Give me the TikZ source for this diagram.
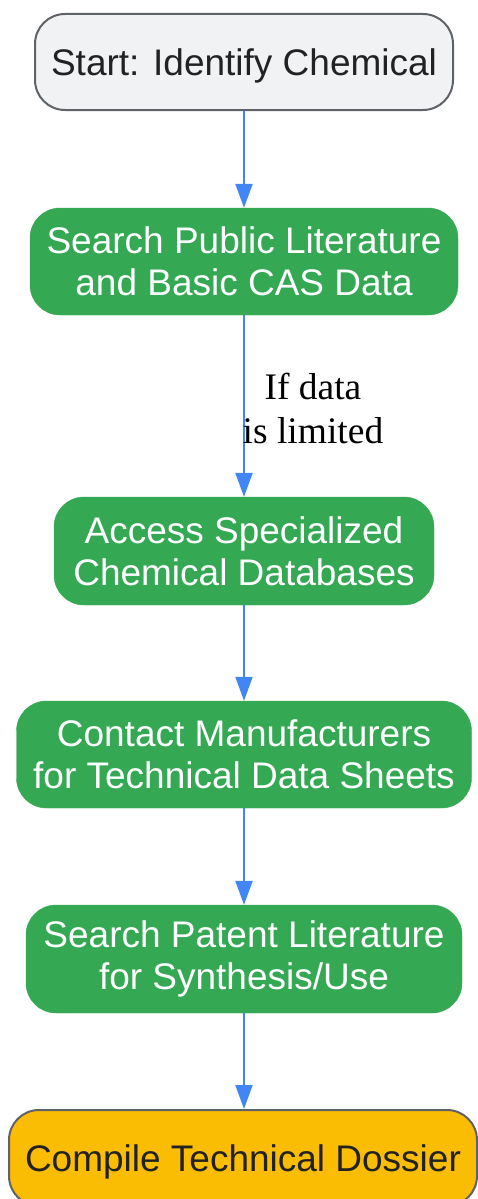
\documentclass[tikz,border=0pt]{standalone}
\usepackage{fontspec}
\setmainfont{Liberation Sans}
\newfontfamily\labelfont{Liberation Serif}
\usetikzlibrary{arrows.meta}
\definecolor{gnode}{HTML}{34A853}
\definecolor{ynode}{HTML}{FBBC04}
\definecolor{snode}{HTML}{F1F2F4}
\definecolor{bord}{HTML}{5F6368}
\definecolor{arr}{HTML}{4285F4}
\definecolor{dtext}{HTML}{222222}
\tikzset{
  base/.style={rounded corners=30pt, align=center, inner sep=0pt,
    font=\fontsize{37}{42}\selectfont},
  oneline/.style={text height=27pt, text depth=0pt},
  startbox/.style={base, oneline, fill=snode, draw=bord, line width=2pt, text=dtext},
  greenbox/.style={base, fill=gnode, draw=gnode, text=white},
  endbox/.style={base, oneline, fill=ynode, draw=bord, line width=2pt, text=dtext},
  flow/.style={draw=arr, line width=2.2pt, -{Triangle[length=24pt,width=17pt]}},
  edgelabel/.style={font=\labelfont\fontsize{37.5}{44}\selectfont, align=center, text=black}
}
\begin{document}
\begin{tikzpicture}[x=1pt,y=-1pt]
\useasboundingbox (0,0) rectangle (478,1199);
\clip (0,0) rectangle (478,1199);
\node[startbox, minimum width=418pt, minimum height=96pt] (n1) at (244,62) {Start: Identify Chemical};
\node[greenbox, minimum width=428pt, minimum height=107pt] (n2) at (244,261.5) {Search Public Literature\\and Basic CAS Data};
\node[greenbox, minimum width=380pt, minimum height=108pt] (n3) at (244,551) {Access Specialized\\Chemical Databases};
\node[greenbox, minimum width=455pt, minimum height=107pt] (n4) at (244,754.5) {Contact Manufacturers\\for Technical Data Sheets};
\node[greenbox, minimum width=436pt, minimum height=108pt] (n5) at (244,959) {Search Patent Literature\\for Synthesis/Use};
\node[endbox, minimum width=468pt, minimum height=96pt] (n6) at (243,1158) {Compile Technical Dossier};
\draw[flow] (n1.south) -- (n2.north);
\draw[flow] (n2.south) -- (n3.north);
\draw[flow] (n3.south) -- (n4.north);
\draw[flow] (n4.south) -- (n5.north);
\draw[flow] (n5.south) -- (n5.south |- n6.north);
\node[edgelabel] (lbl) at (313,408) {If data\\is limited};
\end{tikzpicture}
\end{document}
